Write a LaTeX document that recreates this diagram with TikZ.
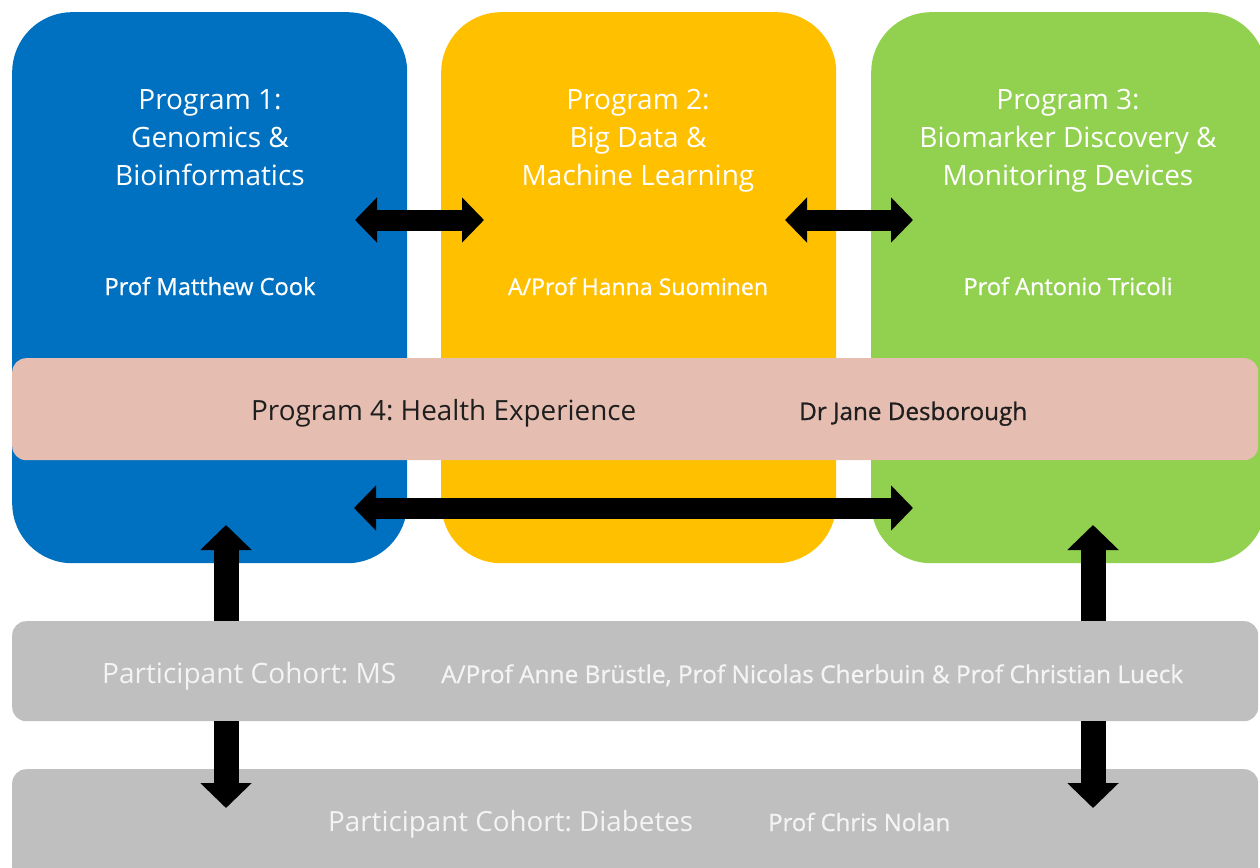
\documentclass[tikz,border=0pt]{standalone}
\usepackage{fontspec}
\setmainfont{Open Sans}
\newfontfamily\semib[FakeBold=0.8]{Open Sans}
\usetikzlibrary{arrows.meta}
\definecolor{pblue}{HTML}{0070C0}
\definecolor{pyellow}{HTML}{FFC000}
\definecolor{pgreen}{HTML}{92D050}
\definecolor{ppink}{HTML}{E6BEB1}
\definecolor{pgray}{HTML}{BFBFBF}
\definecolor{ptext}{HTML}{1E1E1E}
\definecolor{pwhite}{HTML}{F4F4F4}
\newcommand{\fitto}[2]{\resizebox{#1}{!}{#2}}
\frenchspacing
\begin{document}
\begin{tikzpicture}[x=1pt,y=-1pt,
  prog/.style={rounded corners=60pt, minimum width=395pt, minimum height=551pt, inner sep=0pt, anchor=north west, draw=none},
  band/.style={rounded corners=14pt, minimum width=1246pt, inner sep=0pt, anchor=north west, draw=none},
  title/.style={text=white, font=\fontsize{28}{34}\selectfont, anchor=base, inner sep=0pt},
  pname/.style={text=white, font=\semib\fontsize{24}{28}\selectfont, anchor=base, inner sep=0pt},
  btitle/.style={font=\fontsize{28}{34}\selectfont, anchor=base west, inner sep=0pt},
  bname/.style={font=\semib\fontsize{24}{28}\selectfont, anchor=base west, inner sep=0pt},
  harrow/.style={line width=21pt, {Triangle[length=22pt,width=44pt]}-{Triangle[length=22pt,width=44pt]}},
  varrow/.style={line width=25pt, -{Triangle[length=25pt,width=50pt]}}
]
\useasboundingbox (0,0) rectangle (1260,867);
\clip (0,0) rectangle (1260,867);

% program boxes
\node[prog, fill=pblue] (p1) at (12,12) {};
\node[prog, fill=pyellow] (p2) at (441,12) {};
\node[prog, fill=pgreen] (p3) at (871,12) {};

% titles
\node[title] (p1a) at (210,109) {Program 1:};
\node[title] (p1b) at (210,147) {Genomics \&};
\node[title] (p1c) at (210,185) {Bioinformatics};
\node[title] (p2a) at (638,109) {Program 2:};
\node[title] (p2b) at (638,147) {Big Data \&};
\node[title] (p2c) at (638,185) {Machine Learning};
\node[title] (p3a) at (1068,109) {Program 3:};
\node[title] (p3b) at (1068,147) {Biomarker Discovery \&};
\node[title] (p3c) at (1068,185) {Monitoring Devices};

% leaders
\node[pname] (n1) at (210,295) {\fitto{211pt}{Prof Matthew Cook}};
\node[pname] (n2) at (638,295) {\fitto{260pt}{A/Prof Hanna Suominen}};
\node[pname] (n3) at (1068,295) {\fitto{209pt}{Prof Antonio Tricoli}};

% bands
\node[band, fill=ppink, minimum height=102pt] (p4) at (12,358) {};
\node[band, fill=pgray, minimum height=100pt] (ms) at (12,621) {};
\node[band, fill=pgray, minimum height=112pt] (db) at (12,769) {};

\node[btitle, text=ptext] (p4t) at (251,420) {\fitto{385pt}{Program 4: Health Experience}};
\node[bname, text=ptext] (p4n) at (799,420) {\fitto{228pt}{Dr Jane Desborough}};
\node[btitle, text=pwhite] (mst) at (102,683) {\fitto{294pt}{Participant Cohort: MS}};
\node[bname, text=pwhite] (msn) at (441,683) {\fitto{742pt}{A/Prof Anne Brüstle, Prof Nicolas Cherbuin \& Prof Christian Lueck}};
\node[btitle, text=pwhite] (dbt) at (328,831) {\fitto{365pt}{Participant Cohort: Diabetes}};
\node[bname, text=pwhite] (dbn) at (768,831) {\fitto{182pt}{Prof Chris Nolan}};

% arrow end points
\coordinate (a12l) at (355,220);
\coordinate (a12r) at (484,220);
\coordinate (a23l) at (785,220);
\coordinate (a23r) at (913,220);
\coordinate (a13l) at (354,508);
\coordinate (a13r) at (913,508);
\coordinate (lup) at (226,525);
\coordinate (rup) at (1093,525);
\coordinate (ldn) at (226,808);
\coordinate (rdn) at (1093,808);

\draw[harrow] (a12l) -- (a12r);
\draw[harrow] (a23l) -- (a23r);
\draw[harrow] (a13l) -- (a13r);
\draw[varrow] (ms.north -| lup) -- (lup);
\draw[varrow] (ms.north -| rup) -- (rup);
\draw[varrow] (ms.south -| ldn) -- (ldn);
\draw[varrow] (ms.south -| rdn) -- (rdn);
\end{tikzpicture}
\end{document}
